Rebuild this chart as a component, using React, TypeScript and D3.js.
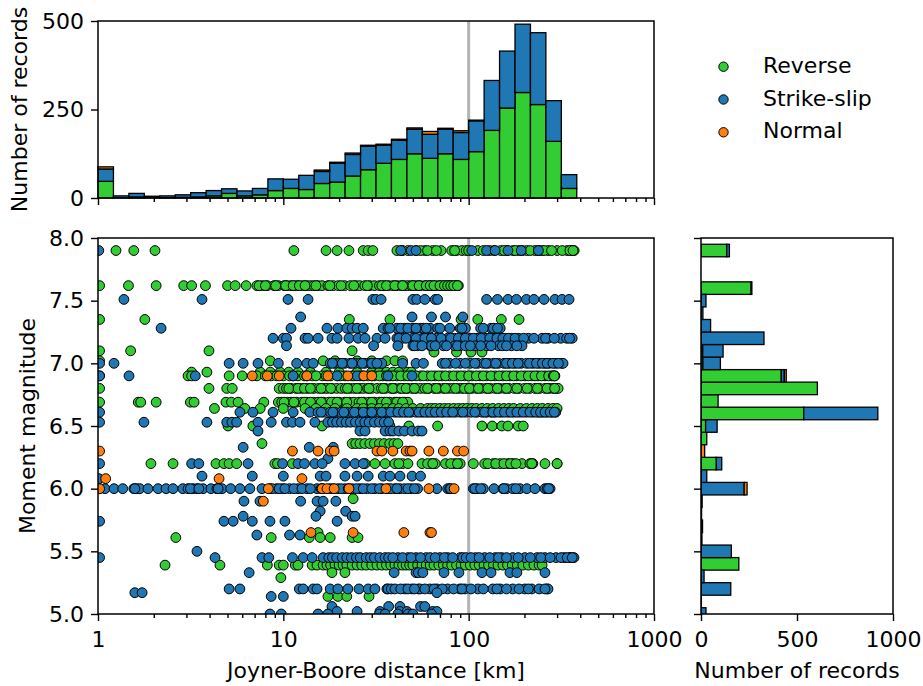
import React, { useEffect, useRef } from "react";
import * as d3 from "d3";

const mechanisms = ["Reverse", "Strike-slip", "Normal"];
const colors = ["#32cd32", "#1f77b4", "#ff7f0e"];

// distance histogram, one count per bin, 12 bins a decade starting at 1 km
const distReverse = [47, 0, 3, 3, 1, 2, 3, 6, 13, 6, 9, 21, 27, 24, 41, 45, 62, 80, 98, 109, 125, 112, 125, 109, 131, 191, 254, 298, 264, 160, 27];
const distStrike = [35, 6, 10, 2, 5, 7, 12, 15, 13, 14, 18, 33, 26, 40, 34, 53, 61, 66, 51, 54, 69, 68, 69, 76, 87, 141, 161, 193, 203, 115, 39];
const distNormal = [6, 0, 0, 0, 0, 0, 0, 0, 0, 0, 0, 0, 0, 0, 4, 3, 4, 3, 3, 3, 4, 8, 3, 5, 2, 0, 0, 0, 0, 0, 0];

// magnitude histogram, bins are 0.1 wide and centred on these values
const magBins = [5.0, 5.1, 5.2, 5.3, 5.4, 5.5, 5.6, 5.7, 5.8, 5.9, 6.0, 6.1, 6.2, 6.3, 6.4, 6.5, 6.6, 6.7, 6.8, 6.9, 7.0, 7.1, 7.2, 7.3, 7.4, 7.5, 7.6, 7.7, 7.8, 7.9];
const magReverse = [0, 0, 0, 0, 197, 0, 0, 0, 0, 0, 0, 0, 80, 0, 30, 24, 535, 89, 606, 418, 10, 9, 0, 0, 0, 0, 261, 0, 0, 134];
const magStrike = [26, 2, 155, 16, 0, 158, 5, 8, 3, 6, 225, 30, 28, 0, 0, 60, 386, 0, 0, 16, 91, 106, 328, 50, 10, 26, 4, 0, 0, 14];
const magNormal = [0, 0, 0, 0, 0, 0, 0, 0, 0, 0, 15, 0, 0, 19, 0, 0, 0, 0, 0, 10, 0, 0, 0, 0, 0, 0, 0, 0, 0, 0];

// scatter: [magnitude, distances in km]. Dense rows come twice, the second
// list holds the records that crowd in between the ones that can be told apart
const reverseRows: [number, number[]][] = [
  [7.9, [1.25, 1.56, 2.03, 11.4, 17, 19.5, 22.6, 27, 28.7, 30.4, 41, 43.5, 47, 52, 58, 64, 71, 81, 86, 92, 97, 112, 130, 149, 161, 173, 186, 206, 228, 248, 268, 300, 340, 362, 371]],
  [7.9, [44, 55, 60, 67, 84, 100, 120, 137, 155, 178, 195, 215, 238, 255, 280, 320, 352, 366]],
  [7.62, [1.02, 1.46, 2.06, 2.9, 3.2, 3.8, 5.0, 5.5, 6.3, 7.2, 7.7, 8.2, 8.9, 9.4, 10.1, 10.5, 11.0, 11.6, 12, 12.7, 13.4, 14, 14.6, 15.4, 16.2, 17.4, 18.6, 19.8, 21.4, 23, 24.6, 25.8, 27.5, 29.3, 31, 33, 35, 37, 39, 41, 43, 45, 47, 49, 51, 53, 55, 58, 61, 63, 66, 69, 72, 75, 78, 81, 85, 86, 88]],
  [7.62, [7.4, 8, 9.1, 10.3, 11.3, 12.2, 13.1, 15, 17.8, 20.5, 24, 28.4, 34, 36, 40, 44, 50, 54, 59, 62, 65, 70, 74, 77, 80, 83, 87]],
  [7.35, [1.02, 1.79, 22.7, 37.6, 91, 112, 150, 187]],
  [7.1, [1.02, 1.5, 3.97, 23.5]],
  [7.09, [65, 86, 103, 118]],
  [7.02, [1.02, 8.5, 16.4, 19, 25, 30, 36, 40, 44]],
  [6.93, [3.2, 3.87, 7.5, 8.5, 9.6, 10.7, 12, 14, 17, 20, 25, 30, 33, 36, 39, 42, 47, 49]],
  [6.9, [1.02, 3.06, 3.2, 5.1, 6, 7.2, 8, 8.6, 10, 10.8, 12, 13, 14.3, 16.2, 18, 19.7, 21.5, 23.5, 25.9, 28.7, 31, 34.4, 37.6, 41, 45, 49, 55, 60, 66, 72, 79, 87, 95, 104, 115, 125, 139, 153, 167, 182, 201, 219, 236, 258, 280, 292]],
  [6.9, [9.2, 11.3, 13.4, 15, 17, 20.3, 24, 27, 30, 33, 36, 39, 43, 47, 52, 57, 63, 69, 75, 83, 91, 100, 110, 120, 132, 146, 160, 175, 192, 210, 228, 247, 270, 286, 290]],
  [6.8, [1.02, 3.97, 4.95, 5.3, 9.5, 10, 10.4, 11, 11.7, 12.5, 13.5, 14.6, 15.5, 16.5, 17.2, 18.3, 19.4, 20.5, 21.6, 23, 24.2, 25.8, 27, 28.5, 30, 32, 33.8, 35.6, 38, 40, 42.5, 45, 47, 49.5, 52, 55, 58, 61, 65, 69, 73, 78, 82, 88, 92, 98, 104, 110, 117, 124, 131, 139, 147, 156, 165, 176, 187, 200, 214, 228, 242, 258, 272, 285, 298, 304]],
  [6.8, [10.7, 12, 13, 14, 16, 18, 22.2, 25, 29, 34.7, 39, 43.5, 46, 51, 60, 67, 75, 85, 95, 101, 113, 127, 143, 160, 182, 207, 235, 265, 291]],
  [6.69, [1.02, 1.65, 1.7, 2.06, 3.15, 3.3, 4.9, 5.25, 5.7, 7.85, 9.4, 9.8, 10.5, 11, 11.8, 12.6, 13.4, 14.5, 15.4, 16.5, 17.6, 18.8, 20, 21.4, 22.7, 24, 25.6, 27.2, 29, 31, 33, 35, 37.5, 40, 42.5, 45, 47]],
  [6.69, [10.1, 11.4, 13, 14, 16, 18.2, 19.5, 22, 26.5, 30, 34, 36, 41, 44]],
  [6.64, [4.25, 6.2, 7.5, 10, 13.1, 15, 17, 19, 22, 25, 27, 30, 33, 36, 39, 42, 46, 50, 55, 60, 63, 66, 70, 74, 78, 83, 88, 93, 98, 104, 110, 118, 126, 135, 145, 155, 165, 175, 190, 205, 220, 235, 250, 268, 285, 300]],
  [6.5, [5.03, 6.85, 16.2, 37.6, 47.6, 68, 118, 134, 151, 163, 185, 197]],
  [6.36, [7.67, 23.5, 24.6, 25.9, 27.5, 29.3, 31, 33, 35, 37.5, 39.5, 41.5]],
  [6.2, [1.93, 2.54, 4.33, 4.78, 5.1, 5.6, 9, 9.3, 11.2, 27.6, 31.2, 35.4, 40, 44, 47, 56, 63, 66, 75, 84, 90, 106, 122, 136, 148, 163, 173, 194, 214, 222, 258, 300]],
  [6.2, [42, 60, 64, 80, 87, 127, 140, 155, 168, 180, 219, 300]],
  [5.92, [23.8]],
  [5.65, [15.4]],
  [5.61, [2.63, 8.6, 13.8, 15.8, 17.9, 23.5, 25.3]],
  [5.39, [2.3, 4.55, 8.2, 9.5, 10, 11.6, 12, 14.3, 15.2, 16.4, 17.2, 18, 19, 20, 21, 22, 23.5, 25, 26.5, 28, 30, 32, 34, 36, 38, 40, 42, 44, 46, 48, 50, 53, 56, 59, 62, 65, 69, 73, 77, 81, 86, 91, 96, 102, 108, 114, 121, 128, 136, 144, 153, 162, 172, 183, 196, 210, 225, 240, 249]],
  [5.33, [18.3, 21.5]],
  [5.29, [9.7]],
  [5.14, [17.4, 19.7, 22, 29]],
];

const strikeRows: [number, number[]][] = [
  [7.9, [1.01, 43, 49, 52, 104, 125, 139, 163, 192, 238]],
  [7.51, [1.38, 3.64, 10.6, 13.6, 30.4, 31.6, 33.7, 50, 52.5, 58, 66, 68, 125, 143, 163, 181, 205, 225, 255, 292, 319, 348]],
  [7.37, [12.4, 49.5, 63, 75, 93]],
  [7.28, [2.19, 11, 17.2, 19.7, 22, 23.5, 25, 27, 34.6, 36.7, 41, 45, 50, 55, 57, 62, 68, 79, 90, 96, 116, 132, 148]],
  [7.28, [37.5, 43, 47, 52, 59, 70, 92, 120, 136, 143]],
  [7.2, [8.8, 10, 10.4, 13.1, 13.6, 15.4, 18.3, 19.5, 22.6, 25.3, 27.6, 32, 35.4, 41, 44, 50, 56.6, 60, 67, 77, 84, 92, 102, 111, 124, 137, 148, 158, 170, 186, 210, 249, 268, 314, 362]],
  [7.2, [42, 46, 52, 58, 63, 71, 80, 88, 96, 106, 117, 130, 142, 153, 164, 178, 198, 225, 260, 290, 338, 350]],
  [7.14, [10.4, 30.7, 41.5, 50, 53, 62, 63, 73, 84, 90, 108, 125, 145, 170, 194]],
  [7.14, [51, 56, 66, 76, 87, 96, 102, 116, 132, 152, 160, 182]],
  [7.0, [1.02, 1.22, 5.1, 6.07, 7.3, 9.4, 11.8, 13.4, 14.5, 17.9, 19, 20.2, 21.5, 22.9, 24.4, 25.9, 27.6, 29.4, 31.2, 33.2, 34, 44, 52, 57, 72, 79, 90, 102, 112, 120, 128, 136, 145, 155, 165, 178, 192, 205, 222, 240, 258, 272, 295, 318, 323]],
  [7.0, [18.4, 20.8, 23.5, 26.7, 30, 32, 75, 85, 96, 108, 124, 140, 160, 172, 185, 213, 232, 250, 265, 285, 305]],
  [6.9, [1.02, 1.47, 3.35, 11.3, 19.5, 25, 36.7, 49.5]],
  [6.61, [1.02, 5.83, 6.85, 8.8, 11.3, 13.9, 15.4, 16.5, 17.9, 19, 20.5, 22, 23.5, 25, 26.5, 28, 29.5, 31, 33, 35.4, 37, 40, 43, 46, 49, 52, 56, 60, 64, 68, 73, 79, 85, 90, 97, 103, 111, 118, 125, 132, 139, 150, 163, 175, 189, 205, 222, 238, 250, 265, 282, 295]],
  [6.61, [16, 18.5, 21.2, 24.2, 27, 30, 34, 38, 41.5, 44.5, 47.5, 54, 58, 62, 66, 71, 76, 82, 93, 108, 122, 135, 145, 156, 169, 182, 197, 214, 230, 244, 258, 275, 290]],
  [6.53, [1.02, 1.77, 3.87, 4.95, 5.28, 5.6, 7.3, 8.6, 10.4, 11.2, 12.3, 14.8, 17.4, 18.4, 19.4, 20.6, 21.8, 23, 24.5, 26, 27.5, 29, 31, 33, 35, 37]],
  [6.46, [7.3, 25.9, 27.6, 35.4, 37.6, 39, 42, 45, 49.5, 53.5, 56]],
  [6.33, [6.07, 13.8, 18.6]],
  [6.24, [17.4]],
  [6.2, [1.02, 3.2, 3.5, 6.45, 9.9, 12, 13, 14.8, 16.2, 21.5, 24.4, 27]],
  [6.1, [3.64, 6.8, 10, 15.8, 17, 21.5, 25, 28.7, 34.6, 37.6, 42.6, 49.5, 55]],
  [6.08, [1.01]],
  [6.0, [1.02, 1.09, 1.22, 1.36, 1.56, 1.62, 1.68, 1.86, 2.11, 2.33, 2.54, 2.87, 3.06, 3.26, 3.42, 3.69, 4.07, 4.38, 4.67, 5.2, 5.83, 6.6, 7.67, 8.47, 9.2, 9.9, 10.8, 12, 13.4, 15.2, 16.4, 17.9, 19.7, 21.5, 23.5, 25.9, 28.4, 31.2, 34, 36.7, 40, 42.6, 45, 49, 53, 67.4, 77, 79, 106, 111, 120, 137, 153, 160, 173, 189, 206, 228, 258, 275]],
  [6.0, [1.58, 3.15, 3.5, 4.45, 8.7, 9.5, 10.2, 11.4, 12.6, 14, 16, 18.6, 20.5, 22.4, 24.8, 27, 30, 33, 38, 41, 47, 51, 80, 108, 116, 155, 180, 265, 270]],
  [5.9, [6.13, 7.48, 12.4, 15.2, 16.4, 19.2]],
  [5.82, [15.8, 21.7]],
  [5.78, [6.07, 15, 23.5, 24.4]],
  [5.74, [1.02, 4.78, 5.36, 6.8, 8.47, 10.2, 19.5]],
  [5.63, [7.2, 10.8, 12.3]],
  [5.5, [3.42]],
  [5.45, [1.02, 4.28, 7.67, 8.35, 11.2, 12.8, 14.3, 16.4, 17.6, 18.4, 19.4, 20.8, 22, 23.3, 24.8, 26, 28, 29.5, 31, 33.2, 35.4, 41.5, 47, 52, 59, 70, 77, 90, 93, 109, 122, 139, 151, 173, 201, 234, 258, 296, 328, 352, 355, 370]],
  [5.45, [37, 39, 44, 49, 55, 62, 66, 74, 82, 97, 103, 114, 130, 145, 160, 185, 215, 245, 275, 315, 340, 362]],
  [5.33, [6.54, 39.6, 52, 53.5, 56.6, 73.6, 88.6, 118, 132, 167, 182, 258]],
  [5.2, [5.1, 5.83, 12.2, 12.8, 14.5, 15.2, 17.9, 19.7, 22.3, 25.6, 28.7, 31.2, 36.2, 36.7, 38.2, 45.3, 49.5, 53.5, 54.6, 61.8, 67.4, 77, 89.7, 95.5, 112, 135, 148, 173, 201, 219, 264, 268]],
  [5.2, [40, 43, 47, 51, 58, 65, 72, 83, 92, 103, 120, 142, 160, 187, 210, 240, 258]],
  [5.17, [1.58, 1.73, 67.4]],
  [5.14, [8.6, 10]],
  [5.06, [18.3, 37, 42.6, 55, 58]],
  [5.02, [19.5, 25, 33.2, 42.6, 46.5, 64, 67.4]],
  [5.0, [8.47, 9.75, 15.4, 17.4, 33, 35.4, 41.5, 47, 50, 63]],
];

const normalRows: [number, number[]][] = [
  [6.9, [6.8, 8.2, 9.5, 13.4, 17.4, 22.3, 27.2, 30]],
  [6.3, [1.02, 11.2, 15.4, 17.9, 18.8, 32, 34, 39, 46, 48.2, 49.5, 61, 73, 87, 94]],
  [6.08, [1.1, 4.5, 12.6]],
  [6.0, [1.02, 8.3, 16.2, 17.2, 18.8, 22.6, 35.8, 61, 83.5]],
  [5.9, [7.8]],
  [5.65, [14.1, 23.8, 44.7, 61.8, 63]],
];

const distTicks = [1, 10, 100, 1000];
const distMinor = [2, 3, 4, 5, 6, 7, 8, 9, 20, 30, 40, 50, 60, 70, 80, 90, 200, 300, 400, 500, 600, 700, 800, 900];
const magTicks = [5.0, 5.5, 6.0, 6.5, 7.0, 7.5, 8.0];
const countTicksTop = [0, 250, 500];
const countTicksRight = [0, 500, 1000];
const refDistance = 100;

const FONT = "'DejaVu Sans', sans-serif";
const FS = 22;

export default function App() {
  const ref = useRef<SVGSVGElement>(null);

  useEffect(() => {
    const svg = d3.select(ref.current);
    svg.selectAll("*").remove();
    svg.attr("font-family", FONT);

    const left = 98, right = 654, mainTop = 238, mainBottom = 614;
    const topTop = 21, topBottom = 198;
    const sideLeft = 701, sideRight = 893;

    const x = d3.scaleLog().domain([1, 1000]).range([left, right]);
    const y = d3.scaleLinear().domain([5, 8]).range([mainBottom, mainTop]);
    const yTop = d3.scaleLinear().domain([0, 500]).range([topBottom, topTop]);
    const xSide = d3.scaleLinear().domain([0, 1000]).range([sideLeft, sideRight]);

    svg.append("defs").append("clipPath").attr("id", "mainClip")
      .append("rect").attr("x", left).attr("y", mainTop)
      .attr("width", right - left).attr("height", mainBottom - mainTop);
    svg.select("defs").append("clipPath").attr("id", "sideClip")
      .append("rect").attr("x", sideLeft).attr("y", mainTop)
      .attr("width", sideRight - sideLeft).attr("height", mainBottom - mainTop);

    // top histogram
    svg.append("line")
      .attr("x1", x(refDistance)).attr("x2", x(refDistance))
      .attr("y1", topTop).attr("y2", topBottom)
      .attr("stroke", "#b3b3b3").attr("stroke-width", 3);

    const binEdge = (i: number) => Math.pow(10, i / 12);
    const distSeries = [distReverse, distStrike, distNormal];
    const gTop = svg.append("g");
    distSeries.forEach((vals, s) => {
      vals.forEach((v, i) => {
        if (v <= 0) return;
        let base = 0;
        for (let k = 0; k < s; k++) base += distSeries[k][i];
        gTop.append("rect")
          .attr("x", x(binEdge(i))).attr("width", x(binEdge(i + 1)) - x(binEdge(i)))
          .attr("y", yTop(base + v)).attr("height", yTop(base) - yTop(base + v))
          .attr("fill", colors[s]).attr("stroke", "#000").attr("stroke-width", 1.3);
      });
    });

    // scatter
    svg.append("line")
      .attr("x1", x(refDistance)).attr("x2", x(refDistance))
      .attr("y1", mainTop).attr("y2", mainBottom)
      .attr("stroke", "#b3b3b3").attr("stroke-width", 3);

    const gMain = svg.append("g").attr("clip-path", "url(#mainClip)");
    [reverseRows, strikeRows, normalRows].forEach((rows, s) => {
      const pts = rows.flatMap(([m, ds]) => ds.map((d) => [d, m] as [number, number]));
      gMain.append("g").selectAll("circle").data(pts).enter().append("circle")
        .attr("cx", (d) => x(d[0]))
        .attr("cy", (d) => y(d[1]))
        .attr("r", 4.9)
        .attr("fill", colors[s])
        .attr("stroke", "#000").attr("stroke-width", 1);
    });

    // side histogram
    const magSeries = [magReverse, magStrike, magNormal];
    const gSide = svg.append("g").attr("clip-path", "url(#sideClip)");
    magSeries.forEach((vals, s) => {
      vals.forEach((v, i) => {
        if (v <= 0) return;
        let base = 0;
        for (let k = 0; k < s; k++) base += magSeries[k][i];
        const yA = y(magBins[i] + 0.05), yB = y(magBins[i] - 0.05);
        gSide.append("rect")
          .attr("x", xSide(base)).attr("width", xSide(base + v) - xSide(base))
          .attr("y", yA).attr("height", yB - yA)
          .attr("fill", colors[s]).attr("stroke", "#000").attr("stroke-width", 1.3);
      });
    });

    // axes
    const styleAxis = (g: any, size = FS) => {
      g.selectAll(".domain").remove();
      g.selectAll("line").attr("stroke", "#000").attr("stroke-width", 1.4);
      g.selectAll("text").attr("font-size", size).attr("font-family", FONT).attr("fill", "#000");
    };
    const major = 7, minor = 4;

    const bottomAxis = (yPos: number, labels: boolean) => {
      const a = svg.append("g").attr("transform", `translate(0,${yPos})`)
        .call(d3.axisBottom(x).tickValues(distTicks).tickSize(major).tickPadding(10)
          .tickFormat((d) => (labels ? String(d) : "")) as any);
      styleAxis(a);
      const b = svg.append("g").attr("transform", `translate(0,${yPos})`)
        .call(d3.axisBottom(x).tickValues(distMinor).tickSize(minor).tickFormat(() => "") as any);
      styleAxis(b);
    };
    bottomAxis(topBottom, false);
    bottomAxis(mainBottom, true);

    styleAxis(svg.append("g").attr("transform", `translate(${left},0)`)
      .call(d3.axisLeft(yTop).tickValues(countTicksTop).tickSize(major).tickPadding(7) as any));
    styleAxis(svg.append("g").attr("transform", `translate(${left},0)`)
      .call(d3.axisLeft(y).tickValues(magTicks).tickSize(major).tickPadding(7).tickFormat(d3.format(".1f")) as any));
    styleAxis(svg.append("g").attr("transform", `translate(${sideLeft},0)`)
      .call(d3.axisLeft(y).tickValues(magTicks).tickSize(major).tickFormat(() => "") as any));
    styleAxis(svg.append("g").attr("transform", `translate(0,${mainBottom})`)
      .call(d3.axisBottom(xSide).tickValues(countTicksRight).tickSize(major).tickPadding(10)
        .tickFormat((d) => String(d)) as any));

    // spines
    [[left, topTop, right, topBottom], [left, mainTop, right, mainBottom], [sideLeft, mainTop, sideRight, mainBottom]]
      .forEach(([x0, y0, x1, y1]) => {
        svg.append("rect").attr("x", x0).attr("y", y0)
          .attr("width", x1 - x0).attr("height", y1 - y0)
          .attr("fill", "none").attr("stroke", "#000").attr("stroke-width", 1.5);
      });

    // axis titles
    const label = (t: string, lx: number, ly: number, rot = 0) =>
      svg.append("text").text(t).attr("font-size", FS).attr("fill", "#000")
        .attr("text-anchor", "middle")
        .attr("transform", `translate(${lx},${ly}) rotate(${rot})`);
    label("Number of records", 26.7, 109.5, -90);
    label("Moment magnitude", 34.5, 426, -90);
    label("Joyner-Boore distance [km]", 376, 677.7);
    label("Number of records", 797, 677.7);

    // legend
    const legendY = d3.scalePoint<string>().domain(mechanisms).range([66.7, 132.3]);
    mechanisms.forEach((m, i) => {
      const ly = legendY(m) as number;
      svg.append("circle").attr("cx", 723.5).attr("cy", ly).attr("r", 4.7)
        .attr("fill", colors[i]).attr("stroke", "#000").attr("stroke-width", 1);
      svg.append("text").text(m).attr("x", 763).attr("y", ly + 6)
        .attr("font-size", FS).attr("fill", "#000");
    });
  }, []);

  return (
    <svg ref={ref} width={923} height={686}
      style={{ position: "absolute", left: 0, top: 0, display: "block" }} />
  );
}
